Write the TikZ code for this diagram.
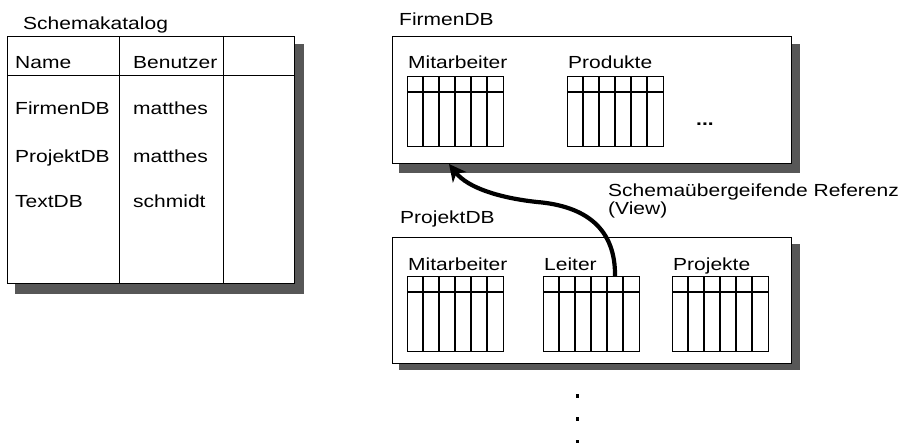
\documentclass[tikz,border=0pt]{standalone}
\usepackage{fontspec}
\setmainfont{Liberation Sans}
\usepackage{graphicx}
\usetikzlibrary{arrows.meta}
\newcommand\hs[1]{\scalebox{1.2}[1]{#1}}
\newcommand\dbtab[5]{% name, x, top, height, header height
  \node[tabbox, minimum height=#4pt] (#1) at (#2,#3) {};
  \foreach \i in {1,...,5}{\draw[tabline] ([xshift=\i*16pt]#1.north west) -- ([xshift=\i*16pt]#1.south west);}
  \draw[tabline] ([yshift=-#5pt]#1.north west) -- ([yshift=-#5pt]#1.north east);
}
\tikzset{
  shadowbox/.style={fill=black!66, draw=none},
  mainbox/.style={draw=black, fill=white, line width=1pt},
  tabbox/.style={draw=black, line width=1pt, anchor=north west, minimum width=96pt, inner sep=0pt, outer sep=0pt},
  tabline/.style={draw=black, line width=1.2pt},
  lbl/.style={anchor=base west, inner sep=0pt, font=\fontsize{17.5}{21}\selectfont},
  dotsq/.style={fill=black, minimum size=3.5pt, inner sep=0pt, draw=none},
  refarrow/.style={line width=4.2pt, -{Stealth[length=17pt,width=17pt,inset=5pt]}}
}
\begin{document}
\begin{tikzpicture}[x=1pt,y=-1pt]
\useasboundingbox (0,0) rectangle (905,443);
% ---------- Schemakatalog ----------
\node[lbl] (katlbl) at (23,30) {\hs{Schemakatalog}};
\fill[shadowbox] (15,44) rectangle (304,294);
\draw[mainbox] (7,37) rectangle (294,284);
\coordinate (k1) at (119,37);
\coordinate (k2) at (223,37);
\draw[line width=1pt] (k1) -- (119,284);
\draw[line width=1pt] (k2) -- (223,284);
\draw[line width=1pt] (7,76) -- (294,76);
\node[lbl] (kname) at (15,69) {\hs{Name}};
\node[lbl] (kben) at (133,69) {\hs{Benutzer}};
\node[lbl] (kr1a) at (15,115) {\hs{FirmenDB}};
\node[lbl] (kr1b) at (133,115) {\hs{matthes}};
\node[lbl] (kr2a) at (15,163) {\hs{ProjektDB}};
\node[lbl] (kr2b) at (133,163) {\hs{matthes}};
\node[lbl] (kr3a) at (15,208) {\hs{TextDB}};
\node[lbl] (kr3b) at (133,208) {\hs{schmidt}};
% ---------- FirmenDB ----------
\node[lbl] (firmlbl) at (399,26) {\hs{FirmenDB}};
\fill[shadowbox] (399,44) rectangle (800,173);
\draw[mainbox] (392,37) rectangle (791,164);
\node[lbl] (fmalbl) at (408,69) {\hs{Mitarbeiter}};
\node[lbl] (fprlbl) at (568,69) {\hs{Produkte}};
\dbtab{fma}{407}{77}{70}{15}
\dbtab{fpr}{567}{77}{70}{15}
\node[lbl] (fdots) at (696,126) {\textbf{\hs{...}}};
% ---------- ProjektDB ----------
\node[lbl] (projlbl) at (400,224) {\hs{ProjektDB}};
\fill[shadowbox] (399,244) rectangle (800,370);
\draw[mainbox] (392,238) rectangle (791,364);
\node[lbl] (pmalbl) at (408,271) {\hs{Mitarbeiter}};
\node[lbl] (pleilbl) at (544,271) {\hs{Leiter}};
\node[lbl] (pprlbl) at (673,271) {\hs{Projekte}};
\dbtab{pma}{407}{277}{75}{15}
\dbtab{plei}{543}{277}{75}{15}
\dbtab{ppr}{672}{277}{75}{15}
% ---------- reference arrow ----------
\coordinate (refstart) at ([xshift=72pt]plei.north west);
\coordinate (refend) at (449,164);
\draw[refarrow] (refstart) .. controls (616,228) and (585,206) .. (537,202)
  .. controls (500,198) and (468,188) .. (refend);
\node[lbl] (reflbl) at (608,197) {\hs{Schemaübergeifende Referenz}};
\node[lbl] (viewlbl) at (608,215) {\hs{(View)}};
% ---------- vertical dots ----------
\node[dotsq] (d1) at (577.5,396) {};
\node[dotsq] (d2) at (577.5,419) {};
\node[dotsq] (d3) at (577.5,441.5) {};
\end{tikzpicture}
\end{document}
